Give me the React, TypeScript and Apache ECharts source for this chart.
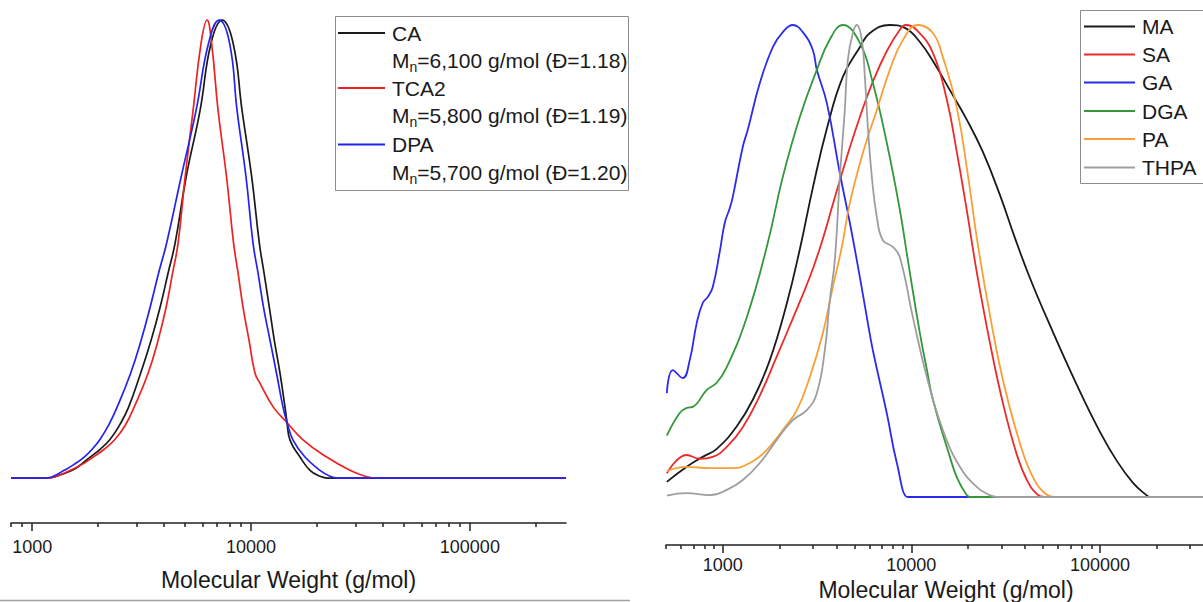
import React, { useEffect, useRef } from 'react';
import * as echarts from 'echarts';

const FONT = "'Liberation Sans', Arial, Helvetica, sans-serif";
const TXT = '#1a1a1a';

// ---------- Left panel data: [molecular weight, normalised intensity] ----------
const caData = [[800,0],[1171,0],[1274,0.003],[1523,0.017],[1674,0.03],[1840,0.046],[2044,0.063],[2271,0.085],[2523,0.118],[2758,0.155],[3129,0.229],[3494,0.301],[3841,0.373],[4179,0.448],[4498,0.513],[5049,0.657],[5850,0.803],[6568,0.95],[7374,1.0],[8278,0.95],[9099,0.803],[10074,0.657],[10912,0.513],[11465,0.448],[12122,0.373],[12776,0.301],[13565,0.229],[14297,0.155],[14600,0.122],[15068,0.083],[16743,0.046],[18598,0.017],[20660,0.004],[22469,0],[24967,0],[275000,0]];
const tca2Data = [[800,0],[1171,0],[1274,0.003],[1491,0.017],[1692,0.03],[1899,0.046],[2132,0.063],[2393,0.085],[2659,0.115],[2922,0.155],[3386,0.229],[3761,0.301],[4092,0.373],[4381,0.448],[4642,0.513],[4996,0.657],[5435,0.803],[5912,0.95],[6298,1.0],[6603,0.95],[7070,0.803],[7731,0.657],[8321,0.513],[8724,0.448],[9195,0.373],[9792,0.301],[10430,0.229],[10993,0.207],[12643,0.155],[14554,0.122],[17334,0.083],[22164,0.046],[28317,0.017],[33163,0.004],[36832,0],[43130,0],[275000,0]];
const dpaData = [[800,0],[1146,0],[1234,0.003],[1400,0.017],[1555,0.03],[1728,0.046],[1879,0.063],[2044,0.085],[2247,0.118],[2444,0.155],[2817,0.229],[3146,0.301],[3458,0.373],[3781,0.448],[4113,0.513],[4790,0.657],[5609,0.803],[6398,0.95],[7145,1.0],[7979,0.95],[8633,0.803],[9490,0.657],[10212,0.513],[10764,0.448],[11405,0.373],[12212,0.301],[13075,0.229],[14000,0.155],[14600,0.122],[15551,0.083],[17647,0.046],[20660,0.017],[22947,0.004],[24967,0],[28317,0],[275000,0]];

const leftNames = ['CA', 'TCA2', 'DPA'];
const leftMn = ['6,100', '5,800', '5,700'];
const leftDispersity = ['1.18', '1.19', '1.20'];

// ---------- Right panel data ----------
const maData = [[505,0.032],[644,0.064],[783,0.085],[929,0.102],[1187,0.15],[1443,0.206],[1776,0.29],[2185,0.41],[2562,0.525],[3002,0.655],[3562,0.78],[4331,0.89],[5332,0.953],[6024,0.983],[7690,1.0],[9237,0.994],[11094,0.964],[13324,0.917],[16003,0.862],[19700,0.799],[23946,0.731],[29480,0.64],[35410,0.549],[42530,0.464],[54290,0.364],[75510,0.237],[100000,0.138],[123100,0.076],[149700,0.03],[175000,0.005],[184200,0],[200000,0],[467000,0]];
const saData = [[505,0.05],[644,0.089],[755,0.081],[885,0.085],[1050,0.106],[1277,0.148],[1572,0.215],[1934,0.298],[2351,0.378],[2894,0.466],[3351,0.54],[3833,0.62],[4548,0.72],[5332,0.805],[6249,0.88],[7413,0.945],[8690,0.99],[9350,1.0],[10695,0.989],[13006,0.941],[15430,0.841],[17430,0.73],[19700,0.606],[22255,0.475],[26090,0.327],[30580,0.199],[36290,0.089],[40990,0.036],[46330,0.006],[51080,0],[55000,0],[467000,0]];
const gaData = [[505,0.22],[543,0.269],[613,0.252],[668,0.29],[728,0.369],[783,0.411],[833,0.424],[885,0.445],[964,0.52],[1025,0.581],[1089,0.612],[1130,0.636],[1277,0.742],[1357,0.778],[1572,0.877],[1842,0.953],[2081,0.985],[2351,1.0],[2657,0.985],[3002,0.947],[3153,0.905],[3562,0.835],[4176,0.686],[4718,0.581],[5332,0.466],[5806,0.381],[6249,0.311],[7413,0.177],[8377,0.072],[9581,0],[10000,0],[467000,0]];
const dgaData = [[505,0.13],[591,0.178],[644,0.189],[693,0.191],[823,0.227],[929,0.242],[1050,0.275],[1341,0.381],[1712,0.53],[2081,0.678],[2562,0.805],[3153,0.905],[3700,0.97],[4331,1.0],[5332,0.962],[6249,0.877],[7413,0.75],[8690,0.608],[9581,0.502],[11094,0.347],[12084,0.27],[13006,0.206],[16003,0.085],[17500,0.04],[19500,0.006],[20428,0],[22000,0],[467000,0]];
const paData = [[505,0.055],[644,0.064],[853,0.061],[1130,0.061],[1391,0.072],[1712,0.1],[2081,0.142],[2470,0.184],[2894,0.254],[3392,0.347],[3833,0.445],[4279,0.53],[4718,0.623],[5529,0.729],[6561,0.82],[7690,0.905],[9015,0.968],[10830,1.0],[13006,0.983],[14690,0.932],[17430,0.824],[19940,0.682],[22530,0.534],[26090,0.386],[30580,0.248],[37640,0.114],[44130,0.042],[51080,0.008],[57720,0],[62000,0],[467000,0]];
const thpaData = [[505,0.003],[644,0.008],[853,0.004],[1050,0.015],[1277,0.036],[1572,0.072],[1934,0.121],[2351,0.163],[2789,0.184],[3153,0.22],[3476,0.311],[3695,0.417],[3928,0.502],[4176,0.678],[4438,0.82],[4603,0.926],[4895,0.983],[5139,1.0],[5464,0.968],[5668,0.89],[5879,0.784],[6173,0.678],[6561,0.593],[7059,0.544],[7978,0.53],[8690,0.508],[10185,0.381],[12084,0.254],[14690,0.142],[18080,0.064],[22255,0.021],[26000,0.004],[28420,0],[31000,0],[467000,0]];

const rightNames = ['MA', 'SA', 'GA', 'DGA', 'PA', 'THPA'];

// ---------- Axis ticks ----------
const leftMajorTicks = [1000, 10000, 100000];
const leftMinorTicks = [800, 900, 2000, 3000, 4000, 5000, 6000, 7000, 8000, 9000, 20000, 30000, 40000, 50000, 60000, 70000, 80000, 90000, 200000];
const rightMajorTicks = [1000, 10000, 100000];
const rightMinorTicks = [500, 600, 700, 800, 900, 2000, 3000, 4000, 5000, 6000, 7000, 8000, 9000, 20000, 30000, 40000, 50000, 60000, 70000, 80000, 90000, 200000, 300000];
const axisTitle = 'Molecular Weight (g/mol)';

const leftColors = ['#1a1a1a', '#ee2222', '#2323ee'];
const rightColors = ['#1a1a1a', '#ec2a2a', '#2b2bef', '#34983a', '#f8a037', '#9e9e9e'];

function makeAxisPair(gridIndex: number, min: number, max: number, major: number[], minor: number[], margin: number, nameGap: number, nameShift: number) {
  const base = {
    type: 'log',
    logBase: 10,
    gridIndex,
    min,
    max,
    position: 'bottom',
    splitLine: { show: false },
    minorTick: { show: false },
  };
  return [
    {
      ...base,
      axisLine: { show: true, onZero: false, lineStyle: { color: '#222', width: 1.5 } },
      axisTick: { show: true, inside: false, length: 8, customValues: major, lineStyle: { color: '#222', width: 1.5 } },
      axisLabel: {
        show: true, customValues: major, margin, fontSize: 18, fontFamily: FONT, color: TXT,
        formatter: (v: number) => String(Math.round(v)),
      },
      name: axisTitle,
      nameLocation: 'middle',
      nameGap,
      nameTextStyle: { fontSize: 23, fontFamily: FONT, color: TXT, padding: [0, 0, 0, nameShift] },
    },
    {
      ...base,
      axisLine: { show: false, onZero: false },
      axisTick: { show: true, inside: false, length: 4, customValues: minor, lineStyle: { color: '#222', width: 1.5 } },
      axisLabel: { show: false },
    },
  ];
}

function txt(x: number, y: number, text: string, size: number) {
  return {
    type: 'text',
    x, y, z: 100,
    silent: true,
    style: {
      text, fontSize: size, fontFamily: FONT, fill: TXT,
      textAlign: 'left', textVerticalAlign: 'middle', align: 'left', verticalAlign: 'middle',
    },
  };
}

function legendLine(x1: number, x2: number, y: number, color: string) {
  return {
    type: 'line', z: 100, silent: true,
    shape: { x1, y1: y, x2, y2: y },
    style: { stroke: color, lineWidth: 1.8 },
  };
}

export default function App() {
  const ref = useRef<HTMLDivElement>(null);

  useEffect(() => {
    if (!ref.current) return;
    const chart = echarts.init(ref.current, undefined, { renderer: 'svg' });

    const leftSeriesData = [caData, tca2Data, dpaData];
    const rightSeriesData = [maData, saData, gaData, dgaData, paData, thpaData];

    const series: any[] = [];
    leftSeriesData.forEach((d, i) => {
      series.push({
        type: 'line', name: leftNames[i], data: d, xAxisIndex: 0, yAxisIndex: 0,
        symbol: 'none', showSymbol: false, smooth: 0.45, silent: true,
        lineStyle: { color: leftColors[i], width: 1.7 }, itemStyle: { color: leftColors[i] },
      });
    });
    rightSeriesData.forEach((d, i) => {
      series.push({
        type: 'line', name: rightNames[i], data: d, xAxisIndex: 2, yAxisIndex: 1,
        symbol: 'none', showSymbol: false, smooth: 0.45, silent: true,
        lineStyle: { color: rightColors[i], width: 1.8 }, itemStyle: { color: rightColors[i] },
      });
    });

    const graphic: any[] = [];
    // Left legend
    graphic.push({
      type: 'rect', z: 99, silent: true,
      shape: { x: 335.5, y: 16.5, width: 293, height: 174 },
      style: { fill: '#ffffff', stroke: '#8c8c8c', lineWidth: 1 },
    });
    const leftNameY = [33, 88, 144.5];
    const leftMnY = [60, 115.5, 172];
    leftNames.forEach((n, i) => {
      graphic.push(legendLine(338, 385, leftNameY[i], leftColors[i]));
      graphic.push(txt(392, leftNameY[i], n, 21));
      graphic.push(txt(392, leftMnY[i], 'M', 21));
      graphic.push(txt(409.5, leftMnY[i] + 6.5, 'n', 14));
      graphic.push(txt(417.3, leftMnY[i], `=${leftMn[i]} g/mol (Đ=${leftDispersity[i]})`, 21));
    });
    // Right legend
    graphic.push({
      type: 'rect', z: 99, silent: true,
      shape: { x: 1080.5, y: 10.5, width: 200, height: 173 },
      style: { fill: '#ffffff', stroke: '#8c8c8c', lineWidth: 1 },
    });
    const rightY = [26.5, 54.5, 82.5, 111, 139, 167.5];
    rightNames.forEach((n, i) => {
      graphic.push(legendLine(1084, 1135, rightY[i], rightColors[i]));
      graphic.push(txt(1142, rightY[i], n, 21));
    });
    // Bottom rule under left panel
    graphic.push({
      type: 'line', z: 100, silent: true,
      shape: { x1: 0, y1: 600.5, x2: 630, y2: 600.5 },
      style: { stroke: '#a0a0a0', lineWidth: 1.5 },
    });

    const option: any = {
      animation: false,
      backgroundColor: '#ffffff',
      grid: [
        { left: 11, top: 0, width: 555, height: 523, containLabel: false, outerBoundsMode: 'none' },
        { left: 666, top: 0, width: 537, height: 545, containLabel: false, outerBoundsMode: 'none' },
      ],
      xAxis: [
        ...makeAxisPair(0, 800, 275000, leftMajorTicks, leftMinorTicks, 15, 45, 0),
        ...makeAxisPair(1, 500, 351900, rightMajorTicks, rightMinorTicks, 11, 32, 23),
      ],
      yAxis: [
        { type: 'value', gridIndex: 0, min: -0.098, max: 1.044, show: false, splitLine: { show: false } },
        { type: 'value', gridIndex: 1, min: -0.1017, max: 1.053, show: false, splitLine: { show: false } },
      ],
      series,
      graphic,
    };
    chart.setOption(option);
    return () => chart.dispose();
  }, []);

  return (
    <div
      ref={ref}
      style={{ position: 'absolute', left: 0, top: 0, width: 1203, height: 602, overflow: 'hidden', background: '#fff' }}
    />
  );
}
